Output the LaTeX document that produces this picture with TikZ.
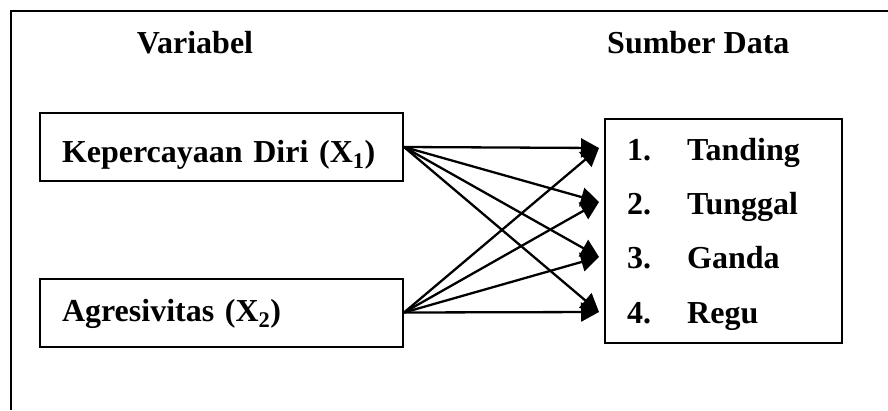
\documentclass[tikz,border=0pt]{standalone}
\usepackage{fontspec}
\setmainfont{Liberation Serif}
\usetikzlibrary{arrows.meta}
\begin{document}
\begin{tikzpicture}[x=1pt,y=-1pt,
  txt/.style={font=\fontsize{32}{38}\selectfont\bfseries, inner sep=0pt},
  leftbox/.style={draw, line width=2pt, minimum width=363pt, minimum height=68pt,
    inner xsep=22pt, inner ysep=0pt, text width=319pt, align=left,
    font=\fontsize{32}{38}\selectfont\bfseries},
  conn/.style={line width=2.3pt, -{Triangle[length=18pt,width=19pt]}},
  item/.style={txt, anchor=base west}]
\useasboundingbox (0,0) rectangle (888,410);
% outer frame (top and left)
\draw[line width=2pt] (11,410) -- (11,11) -- (888,11);
% headers
\node[txt, anchor=base] (hvar) at (195,53) {Variabel};
\node[txt, anchor=base west] (hsum) at (607,53) {Sumber Data};
% left boxes
\node[leftbox, text height=41pt, text depth=11pt] (x1) at (221.5,147) {Kepercayaan Diri (X\textsubscript{1})};
\node[leftbox, text height=35pt, text depth=17pt] (x2) at (221.5,312.5) {Agresivitas (X\textsubscript{2})};
% right box
\node[draw, line width=2pt, minimum width=237pt, minimum height=224pt] (rbox) at (723.5,231) {};
\node[item] (i1) at (627,160) {\makebox[60pt][l]{1.}Tanding};
\node[item] (i2) at (627,214) {\makebox[60pt][l]{2.}Tunggal};
\node[item] (i3) at (627,268) {\makebox[60pt][l]{3.}Ganda};
\node[item] (i4) at (627,323) {\makebox[60pt][l]{4.}Regu};
% arrow targets
\coordinate (t1) at (599,148);
\coordinate (t2) at (599,202);
\coordinate (t3) at (599,257);
\coordinate (t4) at (599,312);
% connectors
\foreach \t in {t1,t2,t3,t4} {
  \draw[conn] (x1.east) -- (\t);
  \draw[conn] (x2.east) -- (\t);
}
\end{tikzpicture}
\end{document}
